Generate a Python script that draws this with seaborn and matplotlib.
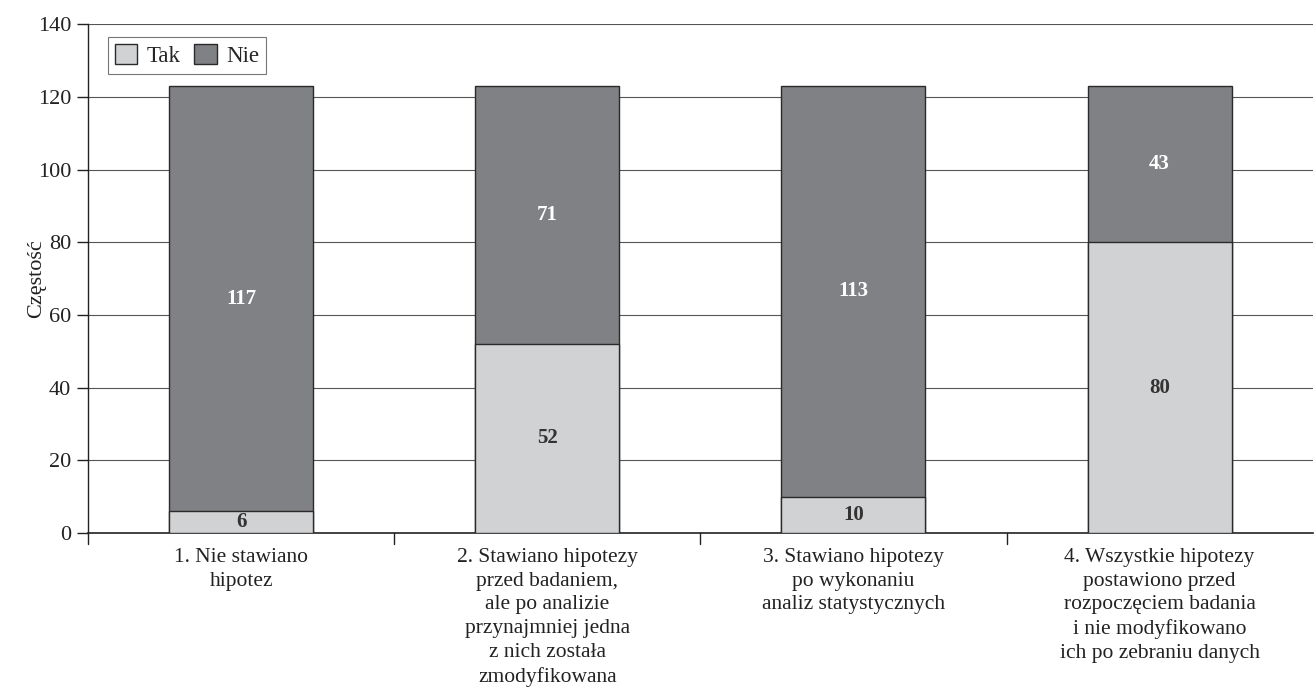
import matplotlib
matplotlib.use("Agg")
import matplotlib.pyplot as plt
import seaborn as sns
import pandas as pd
import numpy as np
from matplotlib.patches import Patch

categories = [
    "1. Nie stawiano\nhipotez",
    "2. Stawiano hipotezy\nprzed badaniem,\nale po analizie\nprzynajmniej jedna\nz nich została\nzmodyfikowana",
    "3. Stawiano hipotezy\npo wykonaniu\nanaliz statystycznych",
    "4. Wszystkie hipotezy\npostawiono przed\nrozpoczęciem badania\ni nie modyfikowano\nich po zebraniu danych",
]
tak = [6, 52, 10, 80]
nie = [117, 71, 113, 43]
yticks = [0, 20, 40, 60, 80, 100, 120, 140]

sns.set_theme(style="white")
plt.rcParams["font.family"] = ["Liberation Serif", "DejaVu Serif"]

light = "#d1d2d4"
dark = "#808184"
edge = "#2a2a2a"

df = pd.DataFrame({"cat": categories, "Tak": tak, "Nie": nie})
df["total"] = df["Tak"] + df["Nie"]

fig = plt.figure(figsize=(13.14, 6.93), dpi=100)
ax = fig.add_axes([0.067, 0.231, 0.932, 0.734])

sns.barplot(data=df, x="cat", y="total", color=dark, edgecolor=edge, linewidth=1.0,
            width=0.47, ax=ax, saturation=1, zorder=3)
sns.barplot(data=df, x="cat", y="Tak", color=light, edgecolor=edge, linewidth=1.0,
            width=0.47, ax=ax, saturation=1, zorder=4)

for i, (t, n) in enumerate(zip(tak, nie)):
    ax.text(i, t / 2, str(t), ha="center", va="center", fontsize=15, fontweight="bold",
            color="#333333", zorder=5)
    ax.text(i, t + n / 2, str(n), ha="center", va="center", fontsize=15, fontweight="bold",
            color="white", zorder=5)

ax.set_ylim(0, 140)
ax.set_xlim(-0.5, 3.5)
ax.set_yticks(yticks)
ax.set_yticklabels([str(v) for v in yticks], fontsize=16, color="#222222")
ax.yaxis.grid(True, color="#555555", linewidth=0.8, zorder=0)
ax.set_axisbelow(True)

ax.set_xticks([0, 1, 2, 3])
ax.set_xticklabels(categories, fontsize=15.5, color="#222222", linespacing=1.33)
ax.tick_params(axis="x", length=0, pad=11)
ax.tick_params(axis="y", left=True, length=8, width=1, color="#222222", direction="out", pad=4)
for xb in [0.5, 1.5, 2.5]:
    ax.plot([xb, xb], [0, -3], color="#222222", lw=1, clip_on=False, zorder=6)
ax.plot([-0.5, -0.5], [0, -3], color="#222222", lw=1, clip_on=False, zorder=6)

ax.set_xlabel("")
ax.set_ylabel("Częstość", fontsize=16, color="#222222", labelpad=-6)

for s in ["top", "right"]:
    ax.spines[s].set_visible(False)
ax.spines["left"].set_color("#222222")
ax.spines["bottom"].set_color("#222222")
ax.spines["left"].set_linewidth(1)
ax.spines["bottom"].set_linewidth(1.2)

handles = [Patch(facecolor=light, edgecolor=edge, label="Tak"),
           Patch(facecolor=dark, edgecolor=edge, label="Nie")]
leg = ax.legend(handles=handles, loc="upper left", bbox_to_anchor=(0.016, 0.975), ncol=2,
                fontsize=16.5, frameon=True, fancybox=False, handlelength=1.0,
                handleheight=1.0, handletextpad=0.4, columnspacing=0.6,
                borderpad=0.3, borderaxespad=0)
leg.get_frame().set_edgecolor("#555555")
leg.get_frame().set_linewidth(0.8)

fig.savefig("out.png", dpi=100)
